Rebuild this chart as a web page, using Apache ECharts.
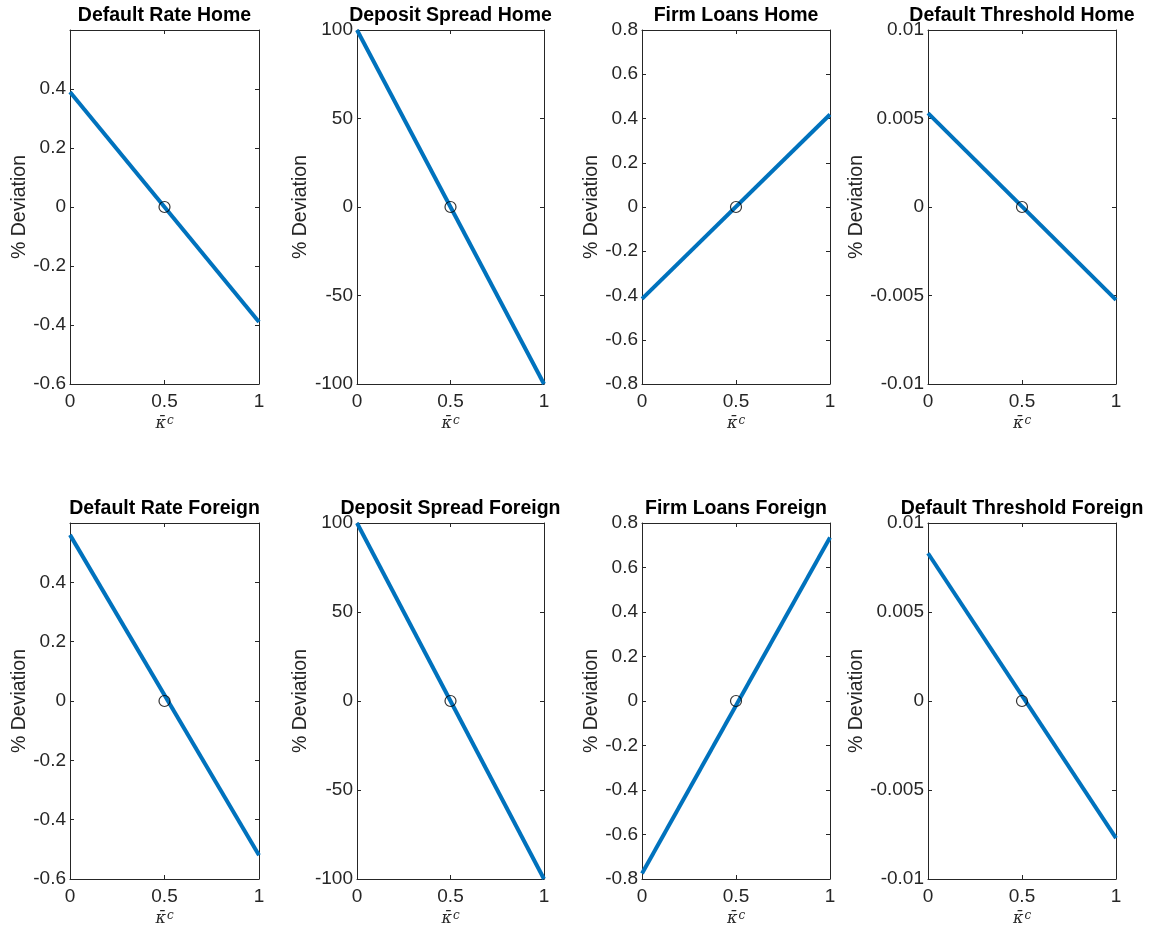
<!DOCTYPE html>
<html>
<head>
<meta charset="utf-8">
<script src="https://cdn.jsdelivr.net/npm/echarts@6/dist/echarts.min.js"></script>
<style>
html,body{margin:0;padding:0;background:#fff;}
#chart{width:1152px;height:931px;}
</style>
</head>
<body>
<div id="chart"></div>
<script>
// ---- data ----
const titles = ['Default Rate Home','Deposit Spread Home','Firm Loans Home','Default Threshold Home',
                'Default Rate Foreign','Deposit Spread Foreign','Firm Loans Foreign','Default Threshold Foreign'];
const xValues = [0, 1];
const yAtStart = [0.39, 100, -0.415, 0.0053, 0.56, 100, -0.775, 0.0083];
const yAtEnd = [-0.39, -100, 0.418, -0.00525, -0.52, -100, 0.735, -0.0077];
const steadyState = [0.5, 0];
const yMin = [-0.6, -100, -0.8, -0.01, -0.6, -100, -0.8, -0.01];
const yMax = [0.6, 100, 0.8, 0.01, 0.6, 100, 0.8, 0.01];
const yStep = [0.2, 50, 0.2, 0.005, 0.2, 50, 0.2, 0.005];
const yHiddenLabel = [0.6, null, null, null, 0.6, null, null, null];

// ---- layout ----
const colLeft = [70, 357, 642, 928];
const colWidth = [189, 187, 188, 188];
const rowTop = [30, 523];
const rowHeight = [354, 356];
const yNameGap = [38, 43, 40, 61];

const dark = '#262626';
const font = 'Liberation Sans, Arial, Helvetica, sans-serif';
const fmt = v => String(Number(v.toFixed(6)));

const grid = [], xAxis = [], yAxis = [], series = [], title = [];
for (let i = 0; i < 8; i++) {
  const c = i % 4, r = Math.floor(i / 4);
  grid.push({left: colLeft[c], top: rowTop[r], width: colWidth[c], height: rowHeight[r], containLabel: false});
  title.push({
    text: titles[i], left: colLeft[c] + colWidth[c] / 2, top: rowTop[r] - 24, textAlign: 'center', padding: 0,
    textStyle: {fontFamily: font, fontWeight: 'bold', fontSize: 19.5, color: '#000'}
  });
  const common = {type: 'value', gridIndex: i, splitLine: {show: false},
    axisLine: {show: true, onZero: false, lineStyle: {color: dark, width: 1}},
    axisTick: {show: true, inside: true, length: 4, lineStyle: {color: dark}}};
  xAxis.push(Object.assign({}, common, {
    position: 'bottom', min: 0, max: 1, interval: 0.5,
    axisLabel: {fontFamily: font, fontSize: 19, color: dark, margin: 8, formatter: fmt},
    name: '{k|κ\u0304}{s|c}', nameLocation: 'middle', nameGap: 31,
    nameTextStyle: {rich: {
      k: {fontFamily: 'DejaVu Serif, serif', fontStyle: 'italic', fontSize: 16, color: dark},
      s: {fontFamily: 'DejaVu Serif, serif', fontStyle: 'italic', fontSize: 12, color: dark, verticalAlign: 'top', padding: [0, 0, 6, 1]}
    }}
  }));
  xAxis.push(Object.assign({}, common, {position: 'top', min: 0, max: 1, interval: 0.5, axisLabel: {show: false}}));
  const hid = yHiddenLabel[i];
  yAxis.push(Object.assign({}, common, {
    position: 'left', min: yMin[i], max: yMax[i], interval: yStep[i],
    axisLabel: {fontFamily: font, fontSize: 19, color: dark, margin: 4,
      formatter: v => (hid !== null && Math.abs(v - hid) < 1e-9) ? '' : fmt(v)},
    name: '% Deviation', nameLocation: 'middle', nameGap: yNameGap[c],
    nameTextStyle: {fontFamily: font, fontSize: 19.5, color: dark}
  }));
  yAxis.push(Object.assign({}, common, {position: 'right', min: yMin[i], max: yMax[i], interval: yStep[i], axisLabel: {show: false}}));
  series.push({
    type: 'line', xAxisIndex: 2 * i, yAxisIndex: 2 * i,
    data: [[xValues[0], yAtStart[i]], [xValues[1], yAtEnd[i]]],
    showSymbol: false, symbol: 'none', lineStyle: {color: '#0072BD', width: 4}, animation: false, silent: true
  });
  series.push({
    type: 'scatter', xAxisIndex: 2 * i, yAxisIndex: 2 * i,
    data: [steadyState], symbol: 'circle', symbolSize: 11,
    itemStyle: {color: 'rgba(0,0,0,0)', borderColor: '#000', borderWidth: 1.2}, animation: false, silent: true, z: 5
  });
}

const chart = echarts.init(document.getElementById('chart'), null, {renderer: 'canvas'});
chart.setOption({backgroundColor: '#fff', animation: false, title, grid, xAxis, yAxis, series});
</script>
</body>
</html>
